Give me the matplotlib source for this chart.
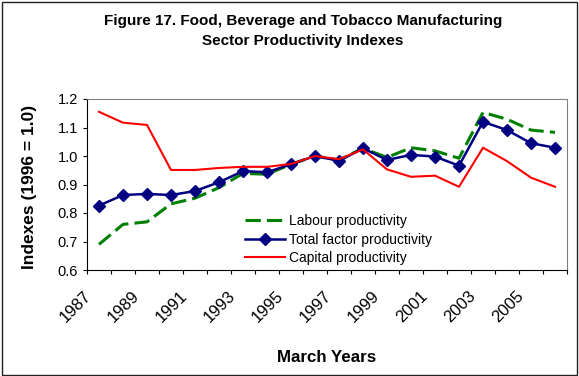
import matplotlib
matplotlib.use("Agg")
import matplotlib.pyplot as plt
import matplotlib.transforms as mtransforms
from matplotlib.patches import Rectangle
import numpy as np

plt.rcParams['font.family'] = ['Liberation Sans', 'DejaVu Sans']

years = list(range(1987, 2007))
labour = [0.690, 0.760, 0.769, 0.832, 0.852, 0.889, 0.939, 0.936, 0.971, 1.000,
          0.986, 1.027, 0.995, 1.029, 1.018, 0.992, 1.153, 1.129, 1.091, 1.083]
tfp = [0.826, 0.863, 0.867, 0.863, 0.877, 0.908, 0.947, 0.943, 0.971, 1.000,
       0.983, 1.027, 0.986, 1.004, 0.998, 0.966, 1.120, 1.091, 1.045, 1.029]
capital = [1.155, 1.117, 1.109, 0.951, 0.951, 0.958, 0.962, 0.962, 0.972, 1.000,
           0.989, 1.023, 0.953, 0.927, 0.931, 0.892, 1.029, 0.982, 0.924, 0.892]
year_labels = [str(y) for y in years[::2]]
y_ticks = [0.6, 0.7, 0.8, 0.9, 1.0, 1.1, 1.2]

fig = plt.figure(figsize=(5.79, 3.76), dpi=100)
ax = fig.add_axes([87/579, 1-270/376, 480/579, 171/376])

x = np.arange(len(years))
ax.plot(x, labour, color='#008000', lw=2.2, dashes=(5, 2), label='Labour productivity')
ax.plot(x, tfp, color='#000080', lw=1.8, marker='D', markersize=6.5,
        label='Total factor productivity')
ax.plot(x, capital, color='#FF0000', lw=1.5, label='Capital productivity')

ax.set_xlim(-0.5, len(years) - 0.5)
ax.set_ylim(0.6, 1.2)
ax.set_yticks(y_ticks)
ax.set_yticklabels(['%.1f' % v for v in y_ticks], fontsize=10.5)

# tick marks sit between categories, labels on every second year
ax.set_xticks(np.arange(-0.5, len(years)), labels=[])
ax.set_xticks(x[::2], labels=year_labels, minor=True)
ax.tick_params(axis='x', which='minor', length=0, pad=13, labelsize=12)
ax.tick_params(axis='both', which='major', length=3, direction='out', width=0.8)
offset = mtransforms.ScaledTranslation(-5/100, 0, fig.dpi_scale_trans)
for lab in ax.get_xticklabels(minor=True):
    lab.set_rotation(45)
    lab.set_ha('right')
    lab.set_transform(lab.get_transform() + offset)

for side in ['top', 'right']:
    ax.spines[side].set_color('#808080')
ax.spines['left'].set_linewidth(0.8)
ax.spines['bottom'].set_linewidth(0.8)

# axis titles placed in figure coords
fig.text(30/579, 1-187/376, 'Indexes (1996 = 1.0)', fontsize=12.5, fontweight='bold',
         rotation=90, ha='center', va='center')
fig.text(327/579, 1-358/376, 'March Years', fontsize=12.2, fontweight='bold',
         ha='center', va='center')

fig.text(303/579, 1-31/376,
         'Figure 17. Food, Beverage and Tobacco Manufacturing\nSector Productivity Indexes',
         fontsize=11, fontweight='bold', ha='center', va='center', linespacing=1.5)

ax.legend(loc='upper left', bbox_to_anchor=(238/579, 1-207/376),
          bbox_transform=fig.transFigure, frameon=False, fontsize=10,
          handlelength=2.9, handletextpad=0.25, labelspacing=0.33, borderpad=0)

# outer chart border
fig.patches.append(Rectangle((2/579, 1/376), 575/579, 373/376, transform=fig.transFigure,
                             fill=False, edgecolor='#202020', lw=1))

fig.savefig('out.png', dpi=100)
